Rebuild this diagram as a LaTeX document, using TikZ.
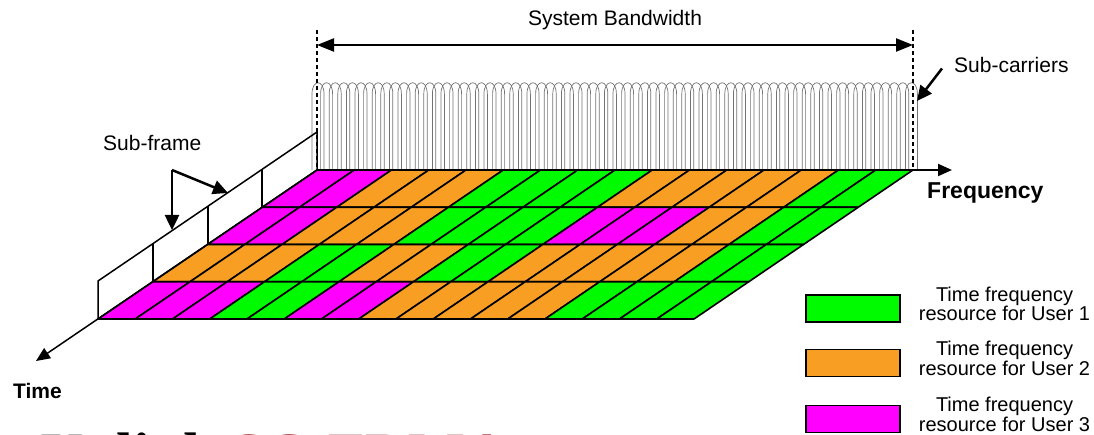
\documentclass[tikz,border=0pt]{standalone}
\usepackage{fontspec}
\setmainfont{Liberation Sans}
\newfontfamily\titlefont{Liberation Serif}
\usetikzlibrary{arrows.meta, calc, positioning}
\definecolor{usrG}{RGB}{0,250,0}
\definecolor{usrO}{RGB}{247,158,35}
\definecolor{usrM}{RGB}{255,0,255}
\definecolor{titlered}{RGB}{160,30,35}
\tikzstyle{cell} = [draw=black, line width=1.6pt, line join=round]
\tikzstyle{lobe} = [draw=black!55, line width=0.7pt]
\tikzstyle{arrow} = [line width=2.5pt, -{Triangle[length=15pt, width=14pt]}]
\tikzstyle{axis} = [line width=2pt, -{Triangle[length=14pt, width=12pt]}]
\tikzstyle{frame} = [line width=1.5pt]
\tikzstyle{legbox} = [rectangle, draw=black, line width=1.5pt, minimum width=94pt,
minimum height=27pt]
\tikzstyle{legtext} = [align=center, inner sep=0pt, font=\fontsize{20}{18}\selectfont]
\tikzstyle{lbl} = [inner sep=0pt, anchor=base west, font=\fontsize{21}{24}\selectfont]

\begin{document}
\begin{tikzpicture}[x=1pt, y=-1pt, node distance=18pt]

      \useasboundingbox (0,0) rectangle (1094,435);

      % corners of the resource grid
      \coordinate (gTL) at (317,170);
      \coordinate (gTR) at (913,170);
      \coordinate (gBL) at (98,319);
      \coordinate (gBR) at (694,319);

      % sub-carriers
      \foreach \i in {0,...,69} {
        \pgfmathsetmacro\cx{318+8.6*\i}
        \draw[lobe] (\cx-6,170) -- (\cx-6,94) .. controls (\cx-6,79) and (\cx+6,79) .. (\cx+6,94) -- (\cx+6,170);
      }

      \draw[line width=1.5pt, dash pattern=on 4pt off 3pt] (317,30) -- (gTL);
      \draw[line width=1.5pt, dash pattern=on 4pt off 3pt] (913,30) -- (gTR);

      \coordinate (bwL) at (317,45);
      \coordinate (bwR) at (913,45);
      \draw[line width=2.2pt, {Triangle[length=17pt, width=13pt]}-{Triangle[length=17pt, width=13pt]}] (bwL) -- (bwR);
      \node[lbl, anchor=base] (BW) at (615,26) {System Bandwidth};

      % resource blocks, one row per list
      \foreach \cols [count=\r from 0] in {
        {M,M,O,O,O,G,G,G,G,O,O,O,O,O,G,G},
        {M,M,O,O,O,G,G,G,G,M,M,M,O,O,G,G},
        {O,O,O,G,G,O,O,G,G,O,O,O,O,O,G,G},
        {M,M,M,G,G,M,M,O,O,O,O,O,G,G,G,G}} {
        \foreach \c [count=\k from 0] in \cols {
          \pgfmathsetmacro\px{317-54.75*\r+37.25*\k}
          \pgfmathsetmacro\py{170+37.25*\r}
          \draw[cell, fill=usr\c] (\px,\py) -- ++(37.25,0) -- ++(-54.75,37.25) -- ++(-37.25,0) -- cycle;
        }
      }

      \draw[line width=2.5pt] (gBL) -- (gBR);
      \coordinate (fTip) at (952,170);
      \draw[axis] (gTL) -- (fTip);
      \coordinate (tTip) at (36,361);
      \draw[axis, line width=1.5pt] (gTL) -- (tTip);

      \node[lbl, font=\fontsize{23}{26}\selectfont\bfseries] (FQ) at (927,199) {Frequency};
      \node[lbl, font=\fontsize{21}{24}\selectfont\bfseries] (TM) at (13,398) {Time};

      % sub-frame band on the time axis
      \draw[frame] (gBL) -- ++(0,-38) -- ($(gTL)+(0,-38)$) -- (gTL);
      \foreach \r in {1,2,3}
        \draw[frame, line width=2pt] (317-54.75*\r,170+37.25*\r) -- ++(0,-38);

      \node[lbl] (SF) at (103,151) {Sub-frame};
      \coordinate (sfK) at (172,170);
      \coordinate (sfA) at (172,230);
      \coordinate (sfB) at (228,193);
      \draw[arrow] (sfK) -- (sfA);
      \draw[arrow] (sfK) -- (sfB);

      \node[lbl] (SC) at (954,73) {Sub-carriers};
      \coordinate (scTip) at (917,101);
      \draw[arrow] ([shift={(-12pt,-3pt)}]SC.west) -- (scTip);

      % legend
      \node[legbox, fill=usrG] (L1) at (853,308.5) {};
      \node[legbox, fill=usrO] (L2) at (853,363) {};
      \node[legbox, fill=usrM] (L3) at (853,419) {};
      \node[legtext, right=of L1, yshift=4.5pt] (T1) {Time frequency\\resource for User 1};
      \node[legtext, right=of L2, yshift=4.5pt] (T2) {Time frequency\\resource for User 2};
      \node[legtext, right=of L3, yshift=4.5pt] (T3) {Time frequency\\resource for User 3};

      % title of the next slide, only its top shows
      \begin{scope}
        \clip (0,0) rectangle (1094,435);
        \node[anchor=base west, inner sep=0pt, font=\titlefont\fontsize{60}{60}\selectfont\bfseries] (TT) at (40,474) {Uplink \textcolor{titlered}{SC-FDMA}};
      \end{scope}

  \end{tikzpicture}
\end{document}
